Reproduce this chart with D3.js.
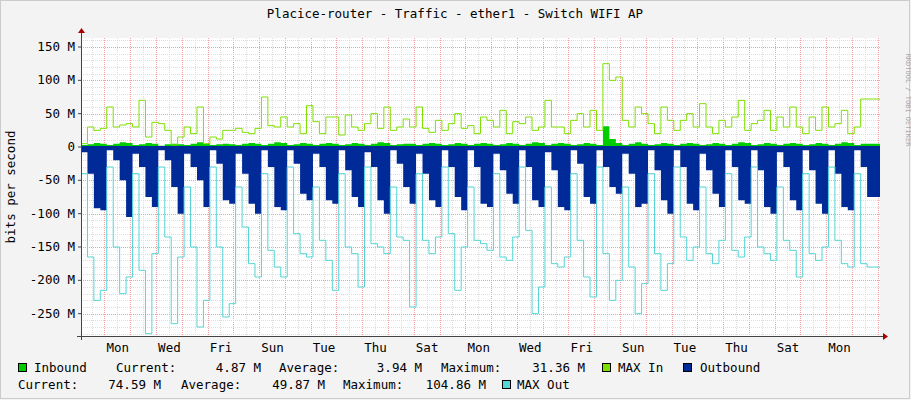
<!DOCTYPE html><html><head><meta charset="utf-8">
<script src="https://cdn.jsdelivr.net/npm/d3@7"></script>
<style>body{margin:0;background:#f3f3f3}text{font-family:"DejaVu Sans Mono",monospace}</style></head><body>
<svg id="c" width="911" height="400"></svg>
<script>
const maxIn=[5,30,25,28,60,30,33,35,30,70,15,37,35,25,3,15,30,20,60,5,15,12,25,25,28,22,20,28,75,32,30,45,30,35,20,62,38,20,45,45,18,48,30,25,35,50,28,60,25,30,42,30,60,28,22,40,25,35,50,28,32,20,45,40,30,55,20,38,35,45,25,30,70,30,30,20,40,50,30,55,25,125,100,105,40,30,60,50,35,20,60,40,25,40,50,30,65,30,20,40,30,45,70,25,35,40,55,25,45,30,60,30,20,45,25,60,30,35,55,20,30,72,72,72];
const outbound=[-8,-40,-92,-95,-5,-20,-50,-105,-10,-30,-75,-90,-5,-20,-60,-100,-10,-30,-50,-90,-5,-25,-80,-85,-10,-40,-85,-100,-5,-30,-90,-95,-5,-25,-70,-80,-10,-30,-80,-85,-5,-35,-75,-90,-8,-30,-80,-100,-5,-25,-60,-85,-10,-40,-80,-90,-5,-30,-75,-95,-5,-30,-85,-90,-10,-35,-70,-85,-5,-30,-80,-90,-8,-35,-90,-95,-5,-25,-75,-85,-5,-30,-60,-70,-10,-40,-90,-85,-5,-35,-80,-100,-5,-30,-85,-95,-10,-35,-70,-90,-5,-30,-80,-85,-5,-35,-90,-100,-8,-30,-80,-95,-5,-35,-85,-100,-5,-40,-90,-95,-5,-30,-75,-75];
const maxOut=[-40,-165,-230,-215,-30,-150,-220,-195,-40,-185,-280,-160,-30,-135,-265,-165,-60,-150,-270,-230,-30,-150,-255,-235,-60,-120,-175,-195,-40,-155,-180,-195,-30,-130,-160,-165,-60,-140,-170,-215,-40,-150,-160,-210,-30,-145,-150,-160,-60,-135,-140,-240,-40,-140,-160,-135,-30,-130,-215,-150,-60,-140,-145,-155,-40,-165,-170,-135,-30,-125,-250,-210,-60,-175,-180,-165,-40,-140,-195,-225,-30,-160,-230,-200,-60,-180,-250,-205,-40,-160,-215,-175,-30,-135,-170,-150,-60,-160,-175,-140,-40,-155,-165,-135,-30,-150,-160,-170,-60,-140,-155,-195,-40,-160,-170,-150,-30,-140,-175,-180,-40,-175,-180,-180];
const inbound=[3,4,6,5,3,5,7,6,3,4,6,5,2,4,5,4,3,5,7,5,3,4,5,4,3,5,6,5,3,5,7,6,3,4,6,5,3,5,6,5,3,4,6,5,3,5,7,6,3,4,5,5,3,5,6,5,3,4,6,5,3,5,6,5,3,4,6,5,3,5,7,6,3,5,6,5,3,4,6,5,3,31,12,6,3,5,7,5,3,4,6,5,3,5,6,5,3,4,6,5,3,5,7,6,3,4,6,5,3,5,6,5,3,4,6,5,3,5,7,6,3,5,5,5];
const dayLabels=["Mon","Wed","Fri","Sun","Tue","Thu","Sat","Mon","Wed","Fri","Sun","Tue","Thu","Sat","Mon"];
const yTicks=[150,100,50,0,-50,-100,-150,-200,-250];

const svg=d3.select("#c");
svg.append("rect").attr("x",0.5).attr("y",0.5).attr("width",909).attr("height",398).attr("fill","#f3f3f3").attr("stroke","#ccc");
const L=81,R=880,T=38,B=336;
const x=d3.scaleLinear().domain([0,31]).range([L,R]);
const y=d3.scaleLinear().domain([-283.5,163.5]).range([B,T]);
svg.append("rect").attr("x",L).attr("y",T).attr("width",R-L).attr("height",B-T).attr("fill","#fff");
const g=svg.append("g");
for(let k=-4;k<124;k++){const t=0.93+k*0.5; if(t<=0||t>=31)continue;
 g.append("line").attr("x1",x(t)).attr("x2",x(t)).attr("y1",T).attr("y2",B).attr("stroke",(k%2==0)?"#f0a0a0":"#ddd").attr("stroke-dasharray","1,1").attr("shape-rendering","crispEdges");}
for(let v=-280;v<=160;v+=10){ g.append("line").attr("x1",L).attr("x2",R).attr("y1",Math.round(y(v))+0.5).attr("y2",Math.round(y(v))+0.5).attr("stroke",v%50==0?"#f0a0a0":"#ddd").attr("stroke-dasharray","1,1");}
const pts=[...d3.range(124),124];
const get=(arr)=>i=>arr[Math.min(i,123)];
const area=d3.area().curve(d3.curveStepAfter).x(i=>x(i*0.25)).y0(y(0));
g.append("path").attr("d",area.y1(i=>y(get(outbound)(i)))(pts)).attr("fill","#002a97");
g.append("path").attr("d",area.y1(i=>y(get(inbound)(i)))(pts)).attr("fill","#00cc00");
const line=d3.line().curve(d3.curveStepAfter).x(i=>x(i*0.25));
g.append("path").attr("d",line.y(i=>y(get(maxIn)(i)))(pts)).attr("fill","none").attr("stroke","#7ee000");
g.append("path").attr("d",line.y(i=>y(get(maxOut)(i)))(pts)).attr("fill","none").attr("stroke","#55d5d5");
g.append("line").attr("x1",L).attr("x2",R).attr("y1",y(0)).attr("y2",y(0)).attr("stroke","#002a97").attr("stroke-width",2);
svg.append("line").attr("x1",L-4).attr("x2",R+3).attr("y1",B+0.5).attr("y2",B+0.5).attr("stroke","#444");
svg.append("line").attr("x1",L+0.5).attr("x2",L+0.5).attr("y1",T-5).attr("y2",B+4).attr("stroke","#444");
svg.append("path").attr("d",`M${R+3},${B-3}L${R+8},${B+0.5}L${R+3},${B+4}Z`).attr("fill","#a00");
svg.append("path").attr("d",`M${L-3},${T-5}L${L+0.5},${T-10}L${L+4},${T-5}Z`).attr("fill","#a00");
yTicks.forEach(v=>{svg.append("line").attr("x1",L-3).attr("x2",L).attr("y1",y(v)).attr("y2",y(v)).attr("stroke","#444");
 svg.append("text").attr("x",L-6).attr("y",y(v)+4).attr("text-anchor","end").attr("font-size",12.5).text(v==0?"0":v+" M");});
dayLabels.forEach((d,i)=>{const t=0.93+2*i+0.5; svg.append("text").attr("x",x(t)).attr("y",352).attr("text-anchor","middle").attr("font-size",12.5).text(d);});
svg.append("text").attr("x",455).attr("y",18).attr("text-anchor","middle").attr("font-size",12.5).text("Placice-router - Traffic - ether1 - Switch WIFI AP");
svg.append("text").attr("transform","translate(15,187) rotate(-90)").attr("text-anchor","middle").attr("font-size",12.5).text("bits per second");
svg.append("text").attr("transform","translate(906,100) rotate(90)").attr("text-anchor","middle").attr("font-size",7).attr("fill","#aaa").text("RRDTOOL / TOBI OETIKER");
const box=(bx,by,c)=>svg.append("rect").attr("x",bx+0.5).attr("y",by+0.5).attr("width",8).attr("height",8).attr("fill",c).attr("stroke","#000");
const txt=(tx,ty,s,a)=>svg.append("text").attr("x",tx).attr("y",ty).attr("font-size",12.5).attr("text-anchor",a||"start").text(s);
box(18,363,"#00cc00"); txt(34,372,"Inbound"); txt(116,372,"Current:"); txt(261,372,"4.87 M","end");
txt(279,372,"Average:"); txt(422,372,"3.94 M","end"); txt(441,372,"Maximum:"); txt(585,372,"31.36 M","end");
box(602,363,"#7ee000"); txt(618,372,"MAX In");
box(683,363,"#002a97"); txt(700,372,"Outbound");
txt(18,389,"Current:"); txt(161,389,"74.59 M","end"); txt(181,389,"Average:"); txt(325,389,"49.87 M","end");
txt(343,389,"Maximum:"); txt(486,389,"104.86 M","end");
box(502,380,"#55d5d5"); txt(517,389,"MAX Out");
</script></body></html>
